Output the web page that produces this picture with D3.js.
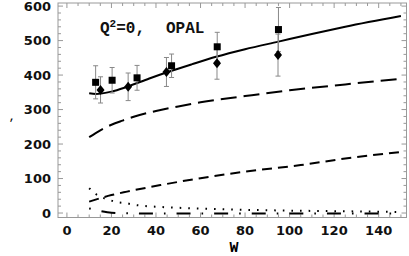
<!DOCTYPE html>
<html><head><meta charset="utf-8">
<script src="https://cdn.jsdelivr.net/npm/d3@7"></script>
<style>body{margin:0;background:#fff}svg{display:block}</style>
</head><body>
<script>
// ---- data ----
const xTicks = [0, 20, 40, 60, 80, 100, 120, 140];
const yTicks = [0, 100, 200, 300, 400, 500, 600];
const solidW = [10, 13, 20, 27, 37, 45, 56, 67, 80, 95, 110, 125, 150];
const solidV = [347, 345, 352, 366, 390, 408, 431, 453, 475, 497, 519, 540, 571];
const longW = [10, 15, 20, 25, 30, 40, 50, 60, 80, 100, 125, 150];
const longV = [220, 240, 256, 268, 279, 296, 309, 321, 339, 356, 373, 389];
const medW = [10, 20, 27, 42, 60, 80, 105, 125, 150];
const medV = [33, 52, 62, 81, 101, 120, 139, 158, 177];
const dotW = [10, 13, 19, 23, 27, 30, 34, 41, 55, 75, 100, 125, 150];
const dotV = [72, 55, 38, 31, 28, 24, 21, 18, 14, 10, 7, 5, 3];
const ddW = [10, 15, 20, 30, 50, 80, 110, 150];
const ddV = [13.5, 6, 1, -1, -1.5, -1.5, -1.5, -1.5];
const sqW = [12.9, 20.3, 31.5, 47, 67.5, 95];
const sqV = [379, 385, 392, 427, 482, 532];
const sqE = [48, 37, 36, 34, 42, 64];
const diW = [15.1, 27.5, 44.7, 67.4, 94.8];
const diV = [357, 366, 409, 434, 458];
const diE = [38, 40, 42, 46, 61];

const W = 409, H = 256;
const svg = d3.select("body").append("svg").attr("width", W).attr("height", H);
const x = d3.scaleLinear().domain([-4, 152.5]).range([58, 406.5]);
const y = d3.scaleLinear().domain([-13, 609]).range([217.5, 3]);
const [x0, x1] = x.range(), [y0, y1] = y.range();
const frameCol = "#999";

// frame
svg.append("rect").attr("x", x0).attr("y", y1).attr("width", x1 - x0).attr("height", y0 - y1)
  .attr("fill", "none").attr("stroke", frameCol).attr("stroke-width", 1);

// ticks (inward, all sides)
const g = svg.append("g").attr("stroke", frameCol).attr("stroke-width", 1);
const xMinor = d3.range(0, 152, 5);
xMinor.forEach(v => {
  const major = v % 20 === 0;
  const len = major ? 5 : 3;
  const px = x(v);
  g.append("line").attr("x1", px).attr("x2", px).attr("y1", y0).attr("y2", y0 - len);
  g.append("line").attr("x1", px).attr("x2", px).attr("y1", y1).attr("y2", y1 + len);
});
const yMinor = d3.range(0, 609, 20);
yMinor.forEach(v => {
  const major = v % 100 === 0;
  const len = major ? 5 : 3;
  const py = y(v);
  g.append("line").attr("x1", x0).attr("x2", x0 + len).attr("y1", py).attr("y2", py);
  g.append("line").attr("x1", x1).attr("x2", x1 - len).attr("y1", py).attr("y2", py);
});

// tick labels
const lab = svg.append("g").attr("font-family", "DejaVu Sans").attr("font-weight", "bold")
  .attr("font-size", 13).attr("fill", "#111");
xTicks.forEach(v => lab.append("text").attr("x", x(v)).attr("y", 235).attr("text-anchor", "middle").text(v));
yTicks.forEach(v => lab.append("text").attr("x", 51).attr("y", y(v)).attr("dy", "0.36em").attr("text-anchor", "end").text(v));

// axis labels
svg.append("text").attr("x", 234).attr("y", 252).attr("text-anchor", "middle")
  .attr("font-family", "Liberation Mono").attr("font-weight", "bold").attr("font-size", 15).text("W");
svg.append("text").attr("x", 12).attr("y", 120).attr("text-anchor", "middle")
  .attr("font-family", "Liberation Mono").attr("font-weight", "bold").attr("font-size", 10).text(",");

// annotation
const ann = svg.append("text").attr("y", 33).attr("font-family", "Liberation Mono")
  .attr("font-weight", "bold").attr("font-size", 16).attr("fill", "#111");
ann.append("tspan").attr("x", 100).text("Q");
ann.append("tspan").attr("font-size", 11).attr("dy", -6).text("2");
ann.append("tspan").attr("dy", 6).text("=0,");
ann.append("tspan").attr("x", 166).text("OPAL");

// curves
const line = d3.line().x(d => x(d[0])).y(d => y(d[1])).curve(d3.curveMonotoneX);
const zip = (a, b) => a.map((v, i) => [v, b[i]]);
const curves = [
  {d: zip(solidW, solidV), dash: null},
  {d: zip(longW, longV), dash: "16,7"},
  {d: zip(medW, medV), dash: "10,6"},
  {d: zip(dotW, dotV), dash: "1.6,7"},
  {d: zip(ddW, ddV), dash: "1.6,11,14,11"}
];
curves.forEach(c => {
  svg.append("path").attr("d", line(c.d)).attr("fill", "none").attr("stroke", "#000")
    .attr("stroke-width", 2).attr("stroke-dasharray", c.dash);
});

// error bars
const eb = svg.append("g").attr("stroke", "#888").attr("stroke-width", 1);
function errbar(w, v, e) {
  const px = x(w), top = y(v + e), bot = y(v - e);
  eb.append("line").attr("x1", px).attr("x2", px).attr("y1", top).attr("y2", bot);
  eb.append("line").attr("x1", px - 2.5).attr("x2", px + 2.5).attr("y1", top).attr("y2", top);
  eb.append("line").attr("x1", px - 2.5).attr("x2", px + 2.5).attr("y1", bot).attr("y2", bot);
}
sqW.forEach((w, i) => errbar(w, sqV[i], sqE[i]));
diW.forEach((w, i) => errbar(w, diV[i], diE[i]));

// markers
sqW.forEach((w, i) => svg.append("rect").attr("x", x(w) - 3.5).attr("y", y(sqV[i]) - 3.5)
  .attr("width", 7).attr("height", 7).attr("fill", "#000"));
diW.forEach((w, i) => {
  const cx = x(w), cy = y(diV[i]);
  svg.append("path").attr("d", `M${cx},${cy - 5}L${cx + 4},${cy}L${cx},${cy + 5}L${cx - 4},${cy}Z`).attr("fill", "#000");
});
</script>
</body></html>
